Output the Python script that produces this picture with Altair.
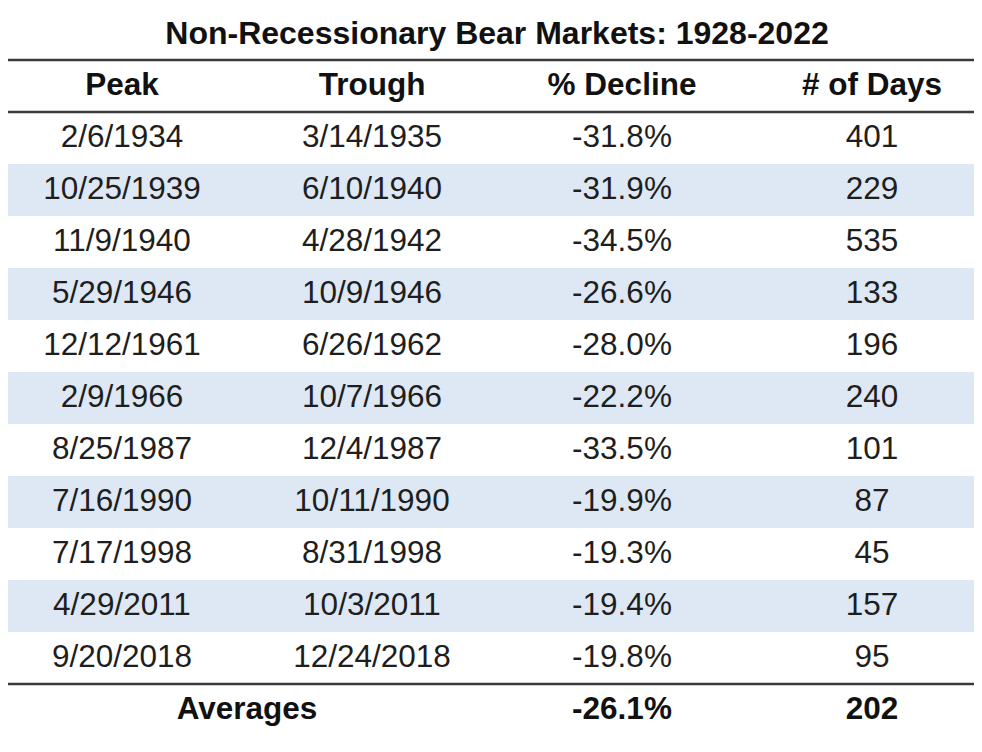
import altair as alt
import pandas as pd

title = "Non-Recessionary Bear Markets: 1928-2022"
headers = ["Peak", "Trough", "% Decline", "# of Days"]
peaks = ["2/6/1934", "10/25/1939", "11/9/1940", "5/29/1946", "12/12/1961", "2/9/1966",
         "8/25/1987", "7/16/1990", "7/17/1998", "4/29/2011", "9/20/2018"]
troughs = ["3/14/1935", "6/10/1940", "4/28/1942", "10/9/1946", "6/26/1962", "10/7/1966",
           "12/4/1987", "10/11/1990", "8/31/1998", "10/3/2011", "12/24/2018"]
declines = ["-31.8%", "-31.9%", "-34.5%", "-26.6%", "-28.0%", "-22.2%",
            "-33.5%", "-19.9%", "-19.3%", "-19.4%", "-19.8%"]
days = ["401", "229", "535", "133", "196", "240", "101", "87", "45", "157", "95"]
avg_label = "Averages"
avg_decline = "-26.1%"
avg_days = "202"

# build table
cells = []
for c, h in enumerate(headers):
    cells.append({"col": c, "row": -1, "text": h, "kind": "bold"})
for r in range(len(peaks)):
    for c, v in enumerate([peaks[r], troughs[r], declines[r], days[r]]):
        cells.append({"col": c, "row": r, "text": v, "kind": "normal"})
n = len(peaks)
cells.append({"col": 0.5, "row": n, "text": avg_label, "kind": "bold"})
cells.append({"col": 2, "row": n, "text": avg_decline, "kind": "bold"})
cells.append({"col": 3, "row": n, "text": avg_days, "kind": "bold"})
cells_df = pd.DataFrame(cells)

bands_df = pd.DataFrame([{"x0": -0.6, "x1": 3.6, "y0": r - 0.5, "y1": r + 0.5}
                         for r in range(n) if r % 2 == 1])
rules_df = pd.DataFrame([{"x0": -0.6, "x1": 3.6, "y": y} for y in [-1.5, -0.5, n - 0.5]])
title_df = pd.DataFrame([{"col": 1.5, "row": -2, "text": title}])

W, H = 966, 736
xs = alt.Scale(domain=[-0.456, 3.408], range=[0, W], nice=False, zero=False)
ys = alt.Scale(domain=[-2.5, 11.654], range=[0, H], nice=False, zero=False)

FONT = "Liberation Sans"
TXT = "#1e1e1e"

bands = alt.Chart(bands_df).mark_rect(color="#dde8f4", clip=True).encode(
    x=alt.X("x0:Q", scale=xs, axis=None), x2="x1:Q",
    y=alt.Y("y0:Q", scale=ys, axis=None), y2="y1:Q")

rules = alt.Chart(rules_df).mark_rule(color="#3a3a3a", strokeWidth=2.4, clip=True).encode(
    x=alt.X("x0:Q", scale=xs, axis=None), x2="x1:Q",
    y=alt.Y("y:Q", scale=ys, axis=None))

normal = alt.Chart(cells_df).transform_filter(alt.datum.kind == "normal").mark_text(
    font=FONT, fontSize=31.5, color=TXT, align="center", baseline="middle").encode(
    x=alt.X("col:Q", scale=xs, axis=None), y=alt.Y("row:Q", scale=ys, axis=None), text="text:N")

bold = alt.Chart(cells_df).transform_filter(alt.datum.kind == "bold").mark_text(
    font=FONT, fontSize=31.5, fontWeight="bold", color="#111111", align="center", baseline="middle").encode(
    x=alt.X("col:Q", scale=xs, axis=None), y=alt.Y("row:Q", scale=ys, axis=None), text="text:N")

ttl = alt.Chart(title_df).mark_text(
    font=FONT, fontSize=32, fontWeight="bold", color="#111111", align="center", baseline="middle").encode(
    x=alt.X("col:Q", scale=xs, axis=None), y=alt.Y("row:Q", scale=ys, axis=None), text="text:N")

chart = alt.layer(bands, rules, normal, bold, ttl).properties(
    width=W, height=H, padding=0, autosize=alt.AutoSizeParams(type="none")
).configure(background="white", view=alt.ViewConfig(strokeWidth=0, stroke="transparent"))

chart.save("out.html", embed_options={"renderer": "svg", "actions": False})
